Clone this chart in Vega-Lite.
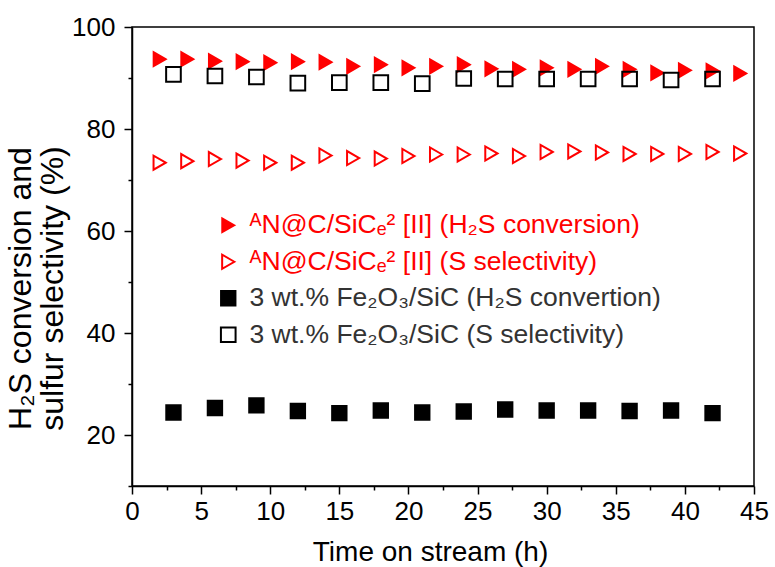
{
  "$schema": "https://vega.github.io/schema/vega-lite/v6.json",
  "width": 622,
  "height": 459,
  "autosize": "none",
  "padding": {"left": 132, "top": 27, "right": 21, "bottom": 81},
  "background": "white",
  "config": {
    "font": "Liberation Sans",
    "view": {"stroke": "black", "strokeWidth": 1.5},
    "axis": {
      "grid": false,
      "domainColor": "black",
      "domainWidth": 1.5,
      "tickColor": "black",
      "tickWidth": 1.5,
      "labelColor": "black",
      "titleColor": "black",
      "labelFont": "Liberation Sans",
      "titleFont": "Liberation Sans",
      "titleFontWeight": "normal",
      "labelFontSize": 26,
      "titleFontSize": 28
    },
    "legend": {
      "padding": 0,
      "symbolSize": 100,
      "symbolStrokeWidth": 2,
      "symbolOpacity": 1,
      "labelFont": "Liberation Sans",
      "labelFontSize": 26.5,
      "labelOffset": 8,
      "labelLimit": 1000,
      "rowPadding": 9.5
    }
  },
  "data": {
    "values": [
      {"t": 2, "v": 93.7, "series": "ᴬN@C/SiCₑ² [II] (H₂S conversion)"},
      {"t": 4, "v": 93.7, "series": "ᴬN@C/SiCₑ² [II] (H₂S conversion)"},
      {"t": 6, "v": 93.3, "series": "ᴬN@C/SiCₑ² [II] (H₂S conversion)"},
      {"t": 8, "v": 93.2, "series": "ᴬN@C/SiCₑ² [II] (H₂S conversion)"},
      {"t": 10, "v": 93.0, "series": "ᴬN@C/SiCₑ² [II] (H₂S conversion)"},
      {"t": 12, "v": 93.2, "series": "ᴬN@C/SiCₑ² [II] (H₂S conversion)"},
      {"t": 14, "v": 93.1, "series": "ᴬN@C/SiCₑ² [II] (H₂S conversion)"},
      {"t": 16, "v": 92.3, "series": "ᴬN@C/SiCₑ² [II] (H₂S conversion)"},
      {"t": 18, "v": 92.6, "series": "ᴬN@C/SiCₑ² [II] (H₂S conversion)"},
      {"t": 20, "v": 92.0, "series": "ᴬN@C/SiCₑ² [II] (H₂S conversion)"},
      {"t": 22, "v": 92.3, "series": "ᴬN@C/SiCₑ² [II] (H₂S conversion)"},
      {"t": 24, "v": 92.6, "series": "ᴬN@C/SiCₑ² [II] (H₂S conversion)"},
      {"t": 26, "v": 91.8, "series": "ᴬN@C/SiCₑ² [II] (H₂S conversion)"},
      {"t": 28, "v": 91.7, "series": "ᴬN@C/SiCₑ² [II] (H₂S conversion)"},
      {"t": 30, "v": 92.0, "series": "ᴬN@C/SiCₑ² [II] (H₂S conversion)"},
      {"t": 32, "v": 91.7, "series": "ᴬN@C/SiCₑ² [II] (H₂S conversion)"},
      {"t": 34, "v": 92.3, "series": "ᴬN@C/SiCₑ² [II] (H₂S conversion)"},
      {"t": 36, "v": 91.7, "series": "ᴬN@C/SiCₑ² [II] (H₂S conversion)"},
      {"t": 38, "v": 91.0, "series": "ᴬN@C/SiCₑ² [II] (H₂S conversion)"},
      {"t": 40, "v": 91.5, "series": "ᴬN@C/SiCₑ² [II] (H₂S conversion)"},
      {"t": 42, "v": 91.4, "series": "ᴬN@C/SiCₑ² [II] (H₂S conversion)"},
      {"t": 44, "v": 90.9, "series": "ᴬN@C/SiCₑ² [II] (H₂S conversion)"},
      {"t": 2, "v": 73.4, "series": "ᴬN@C/SiCₑ² [II] (S selectivity)"},
      {"t": 4, "v": 73.7, "series": "ᴬN@C/SiCₑ² [II] (S selectivity)"},
      {"t": 6, "v": 74.1, "series": "ᴬN@C/SiCₑ² [II] (S selectivity)"},
      {"t": 8, "v": 73.8, "series": "ᴬN@C/SiCₑ² [II] (S selectivity)"},
      {"t": 10, "v": 73.4, "series": "ᴬN@C/SiCₑ² [II] (S selectivity)"},
      {"t": 12, "v": 73.4, "series": "ᴬN@C/SiCₑ² [II] (S selectivity)"},
      {"t": 14, "v": 74.8, "series": "ᴬN@C/SiCₑ² [II] (S selectivity)"},
      {"t": 16, "v": 74.3, "series": "ᴬN@C/SiCₑ² [II] (S selectivity)"},
      {"t": 18, "v": 74.2, "series": "ᴬN@C/SiCₑ² [II] (S selectivity)"},
      {"t": 20, "v": 74.7, "series": "ᴬN@C/SiCₑ² [II] (S selectivity)"},
      {"t": 22, "v": 75.0, "series": "ᴬN@C/SiCₑ² [II] (S selectivity)"},
      {"t": 24, "v": 75.0, "series": "ᴬN@C/SiCₑ² [II] (S selectivity)"},
      {"t": 26, "v": 75.2, "series": "ᴬN@C/SiCₑ² [II] (S selectivity)"},
      {"t": 28, "v": 74.7, "series": "ᴬN@C/SiCₑ² [II] (S selectivity)"},
      {"t": 30, "v": 75.5, "series": "ᴬN@C/SiCₑ² [II] (S selectivity)"},
      {"t": 32, "v": 75.6, "series": "ᴬN@C/SiCₑ² [II] (S selectivity)"},
      {"t": 34, "v": 75.4, "series": "ᴬN@C/SiCₑ² [II] (S selectivity)"},
      {"t": 36, "v": 75.1, "series": "ᴬN@C/SiCₑ² [II] (S selectivity)"},
      {"t": 38, "v": 75.1, "series": "ᴬN@C/SiCₑ² [II] (S selectivity)"},
      {"t": 40, "v": 75.1, "series": "ᴬN@C/SiCₑ² [II] (S selectivity)"},
      {"t": 42, "v": 75.5, "series": "ᴬN@C/SiCₑ² [II] (S selectivity)"},
      {"t": 44, "v": 75.2, "series": "ᴬN@C/SiCₑ² [II] (S selectivity)"},
      {"t": 3, "v": 24.4, "series": "3 wt.% Fe₂O₃/SiC (H₂S convertion)"},
      {"t": 6, "v": 25.3, "series": "3 wt.% Fe₂O₃/SiC (H₂S convertion)"},
      {"t": 9, "v": 25.8, "series": "3 wt.% Fe₂O₃/SiC (H₂S convertion)"},
      {"t": 12, "v": 24.7, "series": "3 wt.% Fe₂O₃/SiC (H₂S convertion)"},
      {"t": 15, "v": 24.3, "series": "3 wt.% Fe₂O₃/SiC (H₂S convertion)"},
      {"t": 18, "v": 24.8, "series": "3 wt.% Fe₂O₃/SiC (H₂S convertion)"},
      {"t": 21, "v": 24.4, "series": "3 wt.% Fe₂O₃/SiC (H₂S convertion)"},
      {"t": 24, "v": 24.6, "series": "3 wt.% Fe₂O₃/SiC (H₂S convertion)"},
      {"t": 27, "v": 25.0, "series": "3 wt.% Fe₂O₃/SiC (H₂S convertion)"},
      {"t": 30, "v": 24.8, "series": "3 wt.% Fe₂O₃/SiC (H₂S convertion)"},
      {"t": 33, "v": 24.8, "series": "3 wt.% Fe₂O₃/SiC (H₂S convertion)"},
      {"t": 36, "v": 24.7, "series": "3 wt.% Fe₂O₃/SiC (H₂S convertion)"},
      {"t": 39, "v": 24.8, "series": "3 wt.% Fe₂O₃/SiC (H₂S convertion)"},
      {"t": 42, "v": 24.3, "series": "3 wt.% Fe₂O₃/SiC (H₂S convertion)"},
      {"t": 3, "v": 90.7, "series": "3 wt.% Fe₂O₃/SiC (S selectivity)"},
      {"t": 6, "v": 90.4, "series": "3 wt.% Fe₂O₃/SiC (S selectivity)"},
      {"t": 9, "v": 90.2, "series": "3 wt.% Fe₂O₃/SiC (S selectivity)"},
      {"t": 12, "v": 89.0, "series": "3 wt.% Fe₂O₃/SiC (S selectivity)"},
      {"t": 15, "v": 89.1, "series": "3 wt.% Fe₂O₃/SiC (S selectivity)"},
      {"t": 18, "v": 89.1, "series": "3 wt.% Fe₂O₃/SiC (S selectivity)"},
      {"t": 21, "v": 88.9, "series": "3 wt.% Fe₂O₃/SiC (S selectivity)"},
      {"t": 24, "v": 89.9, "series": "3 wt.% Fe₂O₃/SiC (S selectivity)"},
      {"t": 27, "v": 89.8, "series": "3 wt.% Fe₂O₃/SiC (S selectivity)"},
      {"t": 30, "v": 89.8, "series": "3 wt.% Fe₂O₃/SiC (S selectivity)"},
      {"t": 33, "v": 89.8, "series": "3 wt.% Fe₂O₃/SiC (S selectivity)"},
      {"t": 36, "v": 89.8, "series": "3 wt.% Fe₂O₃/SiC (S selectivity)"},
      {"t": 39, "v": 89.6, "series": "3 wt.% Fe₂O₃/SiC (S selectivity)"},
      {"t": 42, "v": 89.8, "series": "3 wt.% Fe₂O₃/SiC (S selectivity)"}
    ]
  },
  "mark": {"type": "point", "filled": false, "opacity": 1, "strokeWidth": 2},
  "encoding": {
    "x": {
      "field": "t",
      "type": "quantitative",
      "scale": {"domain": [0, 45], "nice": false, "zero": false},
      "axis": {
        "title": "Time on stream (h)",
        "values": [0, 2.5, 5, 7.5, 10, 12.5, 15, 17.5, 20, 22.5, 25, 27.5, 30, 32.5, 35, 37.5, 40, 42.5, 45],
        "labelExpr": "datum.value % 5 === 0 ? datum.label : ''",
        "tickSize": {"condition": {"test": "datum.value % 5 !== 0", "value": 4}, "value": 8},
        "labelPadding": 4,
        "labelOverlap": false,
        "labelFlush": false,
        "titlePadding": 14,
        "titleX": 298
      }
    },
    "y": {
      "field": "v",
      "type": "quantitative",
      "scale": {"domain": [10, 100], "nice": false, "zero": false},
      "axis": {
        "title": ["H₂S conversion and", "sulfur selectivity (%)"],
        "values": [10, 20, 30, 40, 50, 60, 70, 80, 90, 100],
        "labelExpr": "datum.value % 20 === 0 ? datum.label : ''",
        "tickSize": {"condition": {"test": "datum.value % 20 !== 0", "value": 4}, "value": 8},
        "labelPadding": 9,
        "labelOverlap": false,
        "labelFlush": false,
        "titleX": -95,
        "titleY": 261,
        "titleFontSize": 32,
        "titleLineHeight": 32
      }
    },
    "stroke": {
      "field": "series",
      "type": "nominal",
      "scale": {
        "domain": ["ᴬN@C/SiCₑ² [II] (H₂S conversion)", "ᴬN@C/SiCₑ² [II] (S selectivity)", "3 wt.% Fe₂O₃/SiC (H₂S convertion)", "3 wt.% Fe₂O₃/SiC (S selectivity)"],
        "range": ["#ff0000", "#ff0000", "#000000", "#000000"]
      },
      "legend": {"title": null, "orient": "none", "legendX": 83, "legendY": 185, "encode": {"labels": {"update": {"fill": {"signal": "indexof(datum.label, 'Fe') >= 0 ? '#333333' : '#ff0000'"}}}, "symbols": {"update": {"size": {"signal": "indexof(datum.label, 'Fe') >= 0 ? 64 : 100"}}}}}
    },
    "fill": {
      "field": "series",
      "type": "nominal",
      "scale": {
        "domain": ["ᴬN@C/SiCₑ² [II] (H₂S conversion)", "ᴬN@C/SiCₑ² [II] (S selectivity)", "3 wt.% Fe₂O₃/SiC (H₂S convertion)", "3 wt.% Fe₂O₃/SiC (S selectivity)"],
        "range": ["#ff0000", "transparent", "#000000", "transparent"]
      },
      "legend": {"title": null, "orient": "none", "legendX": 83, "legendY": 185, "encode": {"labels": {"update": {"fill": {"signal": "indexof(datum.label, 'Fe') >= 0 ? '#333333' : '#ff0000'"}}}, "symbols": {"update": {"size": {"signal": "indexof(datum.label, 'Fe') >= 0 ? 64 : 100"}}}}}
    },
    "shape": {
      "field": "series",
      "type": "nominal",
      "scale": {
        "domain": ["ᴬN@C/SiCₑ² [II] (H₂S conversion)", "ᴬN@C/SiCₑ² [II] (S selectivity)", "3 wt.% Fe₂O₃/SiC (H₂S convertion)", "3 wt.% Fe₂O₃/SiC (S selectivity)"],
        "range": ["triangle-right", "triangle-right", "square", "square"]
      },
      "legend": {"title": null, "orient": "none", "legendX": 83, "legendY": 185, "encode": {"labels": {"update": {"fill": {"signal": "indexof(datum.label, 'Fe') >= 0 ? '#333333' : '#ff0000'"}}}, "symbols": {"update": {"size": {"signal": "indexof(datum.label, 'Fe') >= 0 ? 64 : 100"}}}}}
    },
    "size": {
      "field": "series",
      "type": "nominal",
      "scale": {
        "domain": ["ᴬN@C/SiCₑ² [II] (H₂S conversion)", "ᴬN@C/SiCₑ² [II] (S selectivity)", "3 wt.% Fe₂O₃/SiC (H₂S convertion)", "3 wt.% Fe₂O₃/SiC (S selectivity)"],
        "range": [190, 215, 125, 120]
      },
      "legend": {"title": null, "orient": "none", "legendX": 83, "legendY": 185, "encode": {"labels": {"update": {"fill": {"signal": "indexof(datum.label, 'Fe') >= 0 ? '#333333' : '#ff0000'"}}}, "symbols": {"update": {"size": {"signal": "indexof(datum.label, 'Fe') >= 0 ? 64 : 100"}}}}}
    }
  }
}
